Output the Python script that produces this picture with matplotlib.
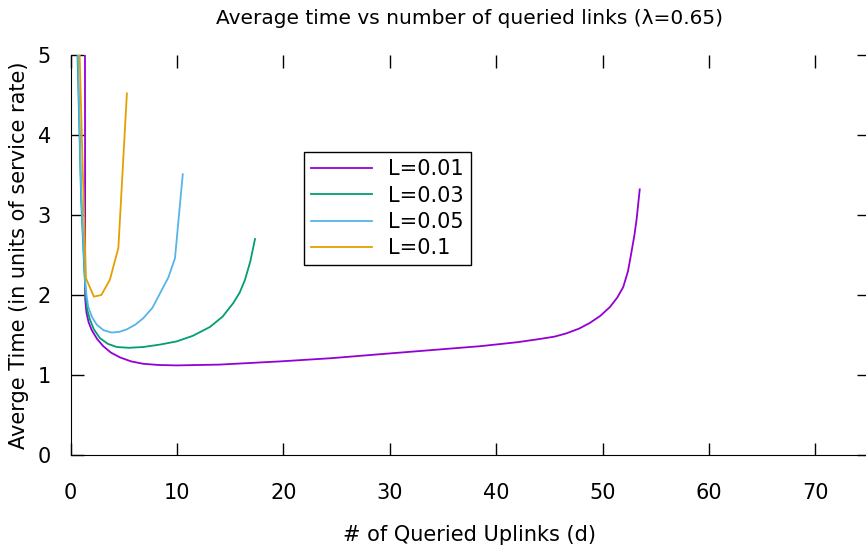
import matplotlib
matplotlib.use('Agg')
import matplotlib.pyplot as plt

# Values
d_L001 = [1.35, 1.38, 1.5, 1.7, 2.0, 2.5, 3.08, 3.8, 4.65, 5.7, 6.84, 8.3, 9.98, 14.0, 19.7, 24.5,
          29.1, 33.8, 38.5, 42.0, 44.1, 45.5, 46.6, 47.8, 48.8, 49.8, 50.7, 51.4, 51.95, 52.4,
          52.7, 53.0, 53.2, 53.5]
t_L001 = [6.5, 1.95, 1.78, 1.66, 1.56, 1.45, 1.36, 1.28, 1.22, 1.17, 1.14, 1.125, 1.12, 1.13, 1.17, 1.21,
          1.26, 1.31, 1.36, 1.41, 1.45, 1.48, 1.52, 1.58, 1.65, 1.74, 1.85, 1.97, 2.10, 2.30,
          2.52, 2.75, 2.94, 3.32]

d_L003 = [0.6, 1.0, 1.3, 1.46, 1.6, 1.83, 2.2, 2.77, 3.5, 4.34, 5.5, 6.84, 8.4, 9.98, 11.5, 13.1,
          14.3, 15.3, 15.9, 16.4, 16.9, 17.34]
t_L003 = [5.3, 3.2, 2.3, 1.94, 1.80, 1.69, 1.57, 1.46, 1.39, 1.35, 1.34, 1.35, 1.38, 1.42, 1.49, 1.60,
          1.73, 1.90, 2.03, 2.19, 2.42, 2.70]

d_L005 = [0.65, 1.0, 1.2, 1.36, 1.5, 1.67, 2.0, 2.46, 3.1, 3.87, 4.6, 5.28, 6.1, 6.84, 7.7, 8.41,
          9.2, 9.82, 10.55]
t_L005 = [5.3, 3.3, 2.69, 2.19, 2.0, 1.85, 1.73, 1.63, 1.56, 1.53, 1.54, 1.57, 1.63, 1.71, 1.84, 2.02,
          2.22, 2.46, 3.51]

d_L01 = [0.8, 1.1, 1.45, 2.2, 2.9, 3.7, 4.5, 5.3]
t_L01 = [5.3, 3.8, 2.21, 1.98, 2.0, 2.19, 2.59, 4.52]

x_ticks = [0, 10, 20, 30, 40, 50, 60, 70]
y_ticks = [0, 1, 2, 3, 4, 5]


def main():
    plt.rcParams['font.family'] = ['DejaVu Sans']
    fig = plt.figure(figsize=(8.66, 5.46), dpi=100)
    ax = fig.add_axes([70.5 / 866, 91 / 546, 798 / 866, 400 / 546])

    ax.plot(d_L001, t_L001, color='#9400d3', lw=1.3, label='L=0.01')
    ax.plot(d_L003, t_L003, color='#009e73', lw=1.3, label='L=0.03')
    ax.plot(d_L005, t_L005, color='#56b4e9', lw=1.3, label='L=0.05')
    ax.plot(d_L01, t_L01, color='#e69f00', lw=1.3, label='L=0.1')

    ax.set_xlim(0, 75)
    ax.set_ylim(0, 5)
    ax.set_xticks(x_ticks)
    ax.set_yticks(y_ticks)
    ax.spines['top'].set_visible(False)
    ax.spines['right'].set_visible(False)
    ax.tick_params(direction='in', length=9, width=1, top=True, right=True, labelsize=15)
    ax.tick_params(axis='x', pad=20)
    ax.tick_params(axis='y', pad=14)

    ax.set_title('Average time vs number of queried links (\u03bb=0.65)', fontsize=14.5, pad=22)
    ax.set_xlabel('# of Queried Uplinks (d)', fontsize=15, labelpad=16)
    ax.set_ylabel('Averge Time (in units of service rate)', fontsize=15, labelpad=6)

    # legend box sits in the middle-left of the plot, like the gnuplot original
    leg = ax.legend(loc='upper left', bbox_to_anchor=(0.2926, 0.7575), borderaxespad=0,
                    fancybox=False, framealpha=1, edgecolor='black', fontsize=15,
                    handlelength=2.9, labelspacing=0.3, handletextpad=0.8, borderpad=0.35)
    leg.get_frame().set_linewidth(1.0)

    fig.savefig('out.png', dpi=100)


if __name__ == '__main__':
    main()
